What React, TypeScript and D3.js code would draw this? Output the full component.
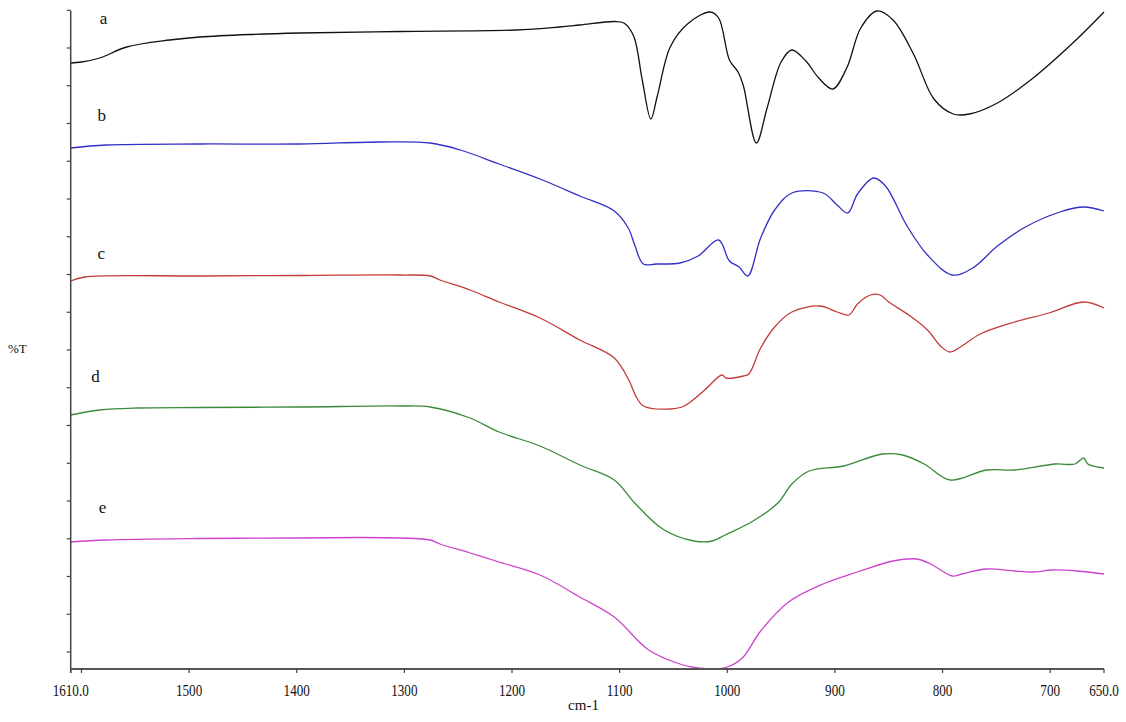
import React from "react";
import * as d3 from "d3";

// wavenumber (cm-1) for each point, and transmittance values (arbitrary %T units, offset per trace)
const waveA = [1610,1600,1583,1558,1518,1490,1444,1397,1304,1197,1156,1137,1105,1096,1087,1079,1071,1065,1053,1037,1016,1008,998,990,985,973,963,950,940,927,915,902,889,876,861,846,827,808,790,775,749,717,678,650];
const valA  = [606,607,611,622,629,632,634.5,636,637.5,639,642,644,647.5,646,633,589,550,573,622,645,657,651,609,597,583,526,561,607,619,608,591,580,601,641,658,649,615,570,555,555,566,590,627,657];

const waveB = [1610,1577,1490,1397,1323,1276,1248,1212,1174,1137,1105,1092,1086,1078,1066,1044,1027,1008,998,989,981,969,956,940,911,898,888,879,864,853,833,814,791,772,749,723,691,669,650];
const valB  = [521,524,525,525,527,526,519,505,490,473,458,441,424,405,405,406,413,429,408,402,393,431,459,476,476,464,456,475,491,483,443,414,394,401,423,442,457,462,458];

const waveC = [1610,1597,1490,1397,1304,1276,1267,1239,1212,1174,1137,1105,1092,1084,1078,1053,1040,1021,1005,1001,985,980,969,956,940,914,898,887,879,867,858,850,830,814,801,793,782,765,733,701,669,650];
const valC  = [388,392,393,393.5,394,393,389,379,367,351,329,311,290,271,263,260,263,279,294,291,293,295,321,342,357,363,357,354,365,374,374,367,353,339,322,317,323,335,347,356,367,361];

const waveD = [1610,1583,1548,1490,1397,1304,1276,1239,1212,1174,1137,1105,1086,1060,1031,1014,1002,976,953,940,924,892,856,837,817,793,759,733,695,677,669,665,650];
const valD  = [254,259,261,261.5,262,263,262,251,237,223,204,189,166,140,128,128,134,148,166,185,198,203,215,214,205,189,199,199,205,205,211,205,201];

const waveE = [1610,1577,1490,1397,1343,1304,1276,1267,1239,1212,1174,1137,1105,1073,1044,1030,1015,1000,986,969,943,911,879,846,824,811,791,782,759,733,717,698,675,650];
const valE  = [127,129,130.5,131,131.5,131,129,125,116,107,94,72,52,19,5,1.5,0,2,11,38,67,85,97,108,110,105,93,95,100,98,97,99,98,95];

const seriesNames = ["a", "b", "c", "d", "e"];
const seriesColors = ["#111111", "#3030c4", "#c23a3a", "#3a8a3a", "#cc44cc"];
const seriesWaves = [waveA, waveB, waveC, waveD, waveE];
const seriesVals = [valA, valB, valC, valD, valE];
// label anchor: wavenumber and value where the letter sits
const labelWave = [1583, 1585, 1585, 1591, 1584];
const labelVal = [645, 548, 410, 287, 156];

const xTickValues = [1610, 1600, 1500, 1400, 1300, 1200, 1100, 1000, 900, 800, 700, 650];
const xTickLabels = ["1610.0", "", "1500", "1400", "1300", "1200", "1100", "1000", "900", "800", "700", "650.0"];
const yTickValues = d3.range(18).map((k) => 17 + k * 37.75);

const W = 1126;
const H = 722;

export default function App() {
  const x = d3.scaleLinear().domain([1610, 650]).range([70.7, 1104]);
  const y = d3.scaleLinear().domain([0, 658.3]).range([669, 10.7]);
  const font = "'Liberation Serif', 'Times New Roman', serif";

  return (
    <svg
      width={W}
      height={H}
      style={{ position: "absolute", left: 0, top: 0, background: "#fff" }}
    >
      <rect x={0} y={0} width={W} height={H} fill="#fff" />
      {seriesNames.map((name, i) => {
        const pts = seriesWaves[i].map((w, j) => [w, seriesVals[i][j]] as [number, number]);
        const line = d3
          .line<[number, number]>()
          .x((d) => x(d[0]))
          .y((d) => y(d[1]))
          .curve(d3.curveCatmullRom.alpha(0.5));
        return (
          <path
            key={name}
            d={line(pts) || ""}
            fill="none"
            stroke={seriesColors[i]}
            strokeWidth={1.3}
            strokeLinejoin="round"
          />
        );
      })}

      {/* y axis */}
      <line x1={x(1610)} x2={x(1610)} y1={y(658.3)} y2={y(0) + 4} stroke="#444" strokeWidth={1.5} />
      {yTickValues.map((v) => (
        <line key={v} x1={x(1610) - 4} x2={x(1610)} y1={y(v)} y2={y(v)} stroke="#444" strokeWidth={1.2} />
      ))}

      {/* x axis */}
      <line x1={x(1610)} x2={x(650)} y1={y(0)} y2={y(0)} stroke="#555" strokeWidth={2} />
      {xTickValues.map((v, i) => (
        <g key={v}>
          <line x1={x(v)} x2={x(v)} y1={y(0)} y2={y(0) + 4} stroke="#444" strokeWidth={1.2} />
          {xTickLabels[i] && (
            <text
              transform={`translate(${x(v)},${y(0) + 27}) scale(0.82,1)`}
              textAnchor="middle"
              fontFamily={font}
              fontSize={16}
              fill="#111"
            >
              {xTickLabels[i]}
            </text>
          )}
        </g>
      ))}

      <text x={583.5} y={710} textAnchor="middle" fontFamily={font} fontSize={15} fill="#111">
        cm-1
      </text>
      <text x={8} y={353} fontFamily={font} fontSize={13} fill="#111">
        %T
      </text>

      {seriesNames.map((name, i) => (
        <text
          key={"lbl" + name}
          x={x(labelWave[i])}
          y={y(labelVal[i])}
          fontFamily={font}
          fontSize={17}
          fill="#111"
        >
          {name}
        </text>
      ))}
    </svg>
  );
}
